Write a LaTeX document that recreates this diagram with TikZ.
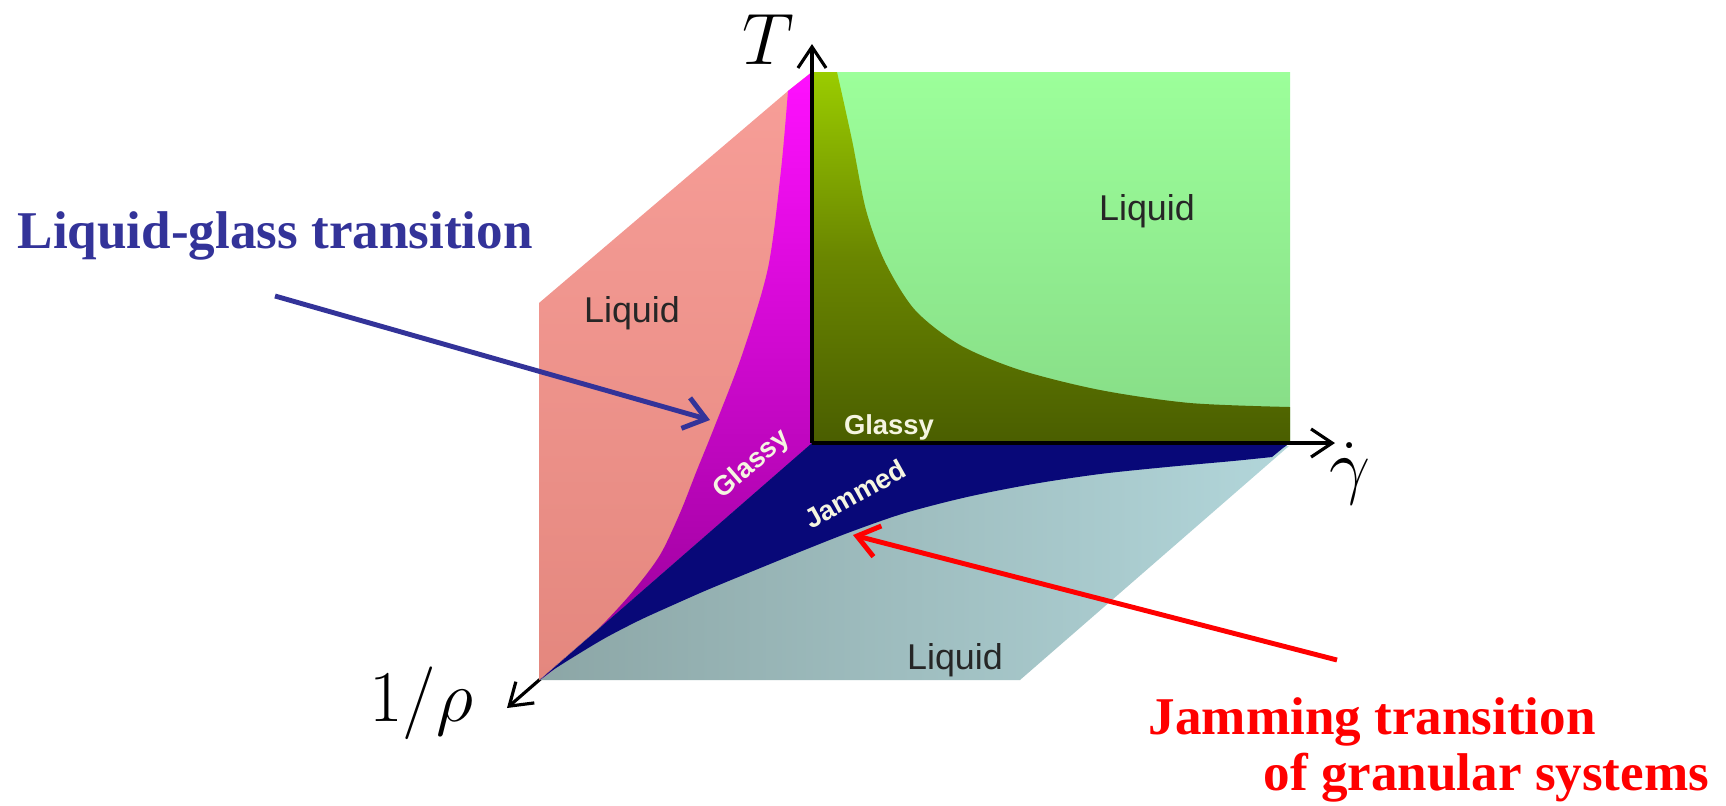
\documentclass[tikz,border=0pt]{standalone}
\usepackage{fontspec}
\setmainfont{Liberation Serif}
\newfontfamily\panelfont{Liberation Sans}
\usepackage{xcolor}
\usepackage{tikz}
\usetikzlibrary{arrows.meta}

\definecolor{pinktop}{RGB}{247,158,152}
\definecolor{pinkbot}{RGB}{228,135,126}
\definecolor{magtop}{RGB}{255,16,255}
\definecolor{magbot}{RGB}{150,0,150}
\definecolor{greentop}{RGB}{156,255,154}
\definecolor{greenbot}{RGB}{134,219,134}
\definecolor{olivetop}{RGB}{154,204,0}
\definecolor{olivemid}{RGB}{106,134,0}
\definecolor{olivebot}{RGB}{74,94,0}
\definecolor{greyl}{RGB}{140,166,166}
\definecolor{greyr}{RGB}{178,214,218}
\definecolor{navyjam}{RGB}{8,8,120}
\definecolor{lgblue}{RGB}{51,51,153}
\definecolor{tagwhite}{RGB}{245,245,225}

\begin{document}
\begin{tikzpicture}[x=0.01cm, y=-0.01cm,
  axis/.style={draw=black, line width=0.9pt, -{Straight Barb[length=6pt,width=8pt]}},
  axlabel/.style={font=\fontsize{20pt}{24pt}\selectfont, inner sep=0pt},
  phase/.style={font=\panelfont\fontsize{10.2pt}{12pt}\selectfont, text=black!85},
  tag/.style={font=\panelfont\bfseries\fontsize{7.8pt}{9pt}\selectfont, text=tagwhite, inner sep=0.5pt},
  note/.style={font=\bfseries\fontsize{15.1pt}{18pt}\selectfont, inner sep=0pt, anchor=base west},
  pointer/.style={line width=1.4pt, -{Straight Barb[length=6pt,width=9pt]}}]

  \useasboundingbox (0,0) rectangle (1726,805);
  \fill[white] (0,0) rectangle (1726,805);

  \coordinate (origin) at (812,443);
  \coordinate (ttip) at (812,44);
  \coordinate (gtip) at (1335,443);
  \coordinate (rtip) at (507,708);

  \draw[axis] (origin) -- (rtip);

  \shade[left color=greyl, right color=greyr] (539,680) -- (1020,680) -- (1289,446) -- (origin) -- cycle;
  \shade[top color=pinktop, bottom color=pinkbot] (539,680) -- (539,303) -- (788,91) -- (812,72) -- (origin) -- cycle;
  \shade[top color=magtop, bottom color=magbot] (812,72) -- plot[smooth] coordinates {(788,91) (781,170) (768,268) (742,355) (714,428) (697,470) (680,513) (660,555) (634,590) (607,620) (580,647) (553,670) (540,680)} -- (origin) -- cycle;
  \shade[top color=greentop, bottom color=greenbot] (812,72) rectangle (1290,443);
  \shade[top color=olivetop, bottom color=olivebot, middle color=olivemid] (origin) -- (812,72) -- plot[smooth] coordinates {(837,72) (852,140) (866,210) (885,262) (915,310) (960,345) (1020,370) (1100,390) (1190,403) (1290,407)} -- (1290,443) -- cycle;
  \fill[navyjam] (origin) -- (1290,443) -- (1283,448) -- plot[smooth] coordinates {(1272,457) (1233,461) (1167,467) (1100,474) (1033,484) (967,497) (905,513) (853,531) (807,549) (753,571) (707,590) (673,605) (640,620) (607,637) (580,653) (553,670) (540,680)} -- cycle;

  \draw[axis] (origin) -- (ttip);
  \draw[axis] (origin) -- (gtip);

  \node[axlabel] (tlabel) at (768,40) {$T$};
  \node[axlabel] (glabel) at (1350,474) {$\dot{\gamma}$};
  \node[axlabel] (rlabel) at (421,703) {$1/\rho$};

  \node[phase] (liqpink) at (632,313) {Liquid};
  \node[phase] (liqgreen) at (1147,211) {Liquid};
  \node[phase] (liqgrey) at (955,660) {Liquid};
  \node[tag] (glassgreen) at (889,427) {Glassy};
  \node[tag, rotate=41] (glassmag) at (752,465) {Glassy};
  \node[tag, rotate=29] (jammed) at (855,494) {Jammed};

  \node[note, text=lgblue] (lgtext) at (17,248) {Liquid-glass transition};
  \node[note, text=red] (jamtext) at (1148,734) {Jamming transition};
  \node[note, text=red] (grantext) at (1263,790) {of granular systems};

  \coordinate (lgtail) at (275,296);
  \coordinate (lghead) at (710,420);
  \coordinate (jamtail) at (1337,660);
  \coordinate (jamhead) at (853,535);
  \draw[pointer, lgblue] (lgtail) -- (lghead);
  \draw[pointer, red] (jamtail) -- (jamhead);
\end{tikzpicture}
\end{document}
